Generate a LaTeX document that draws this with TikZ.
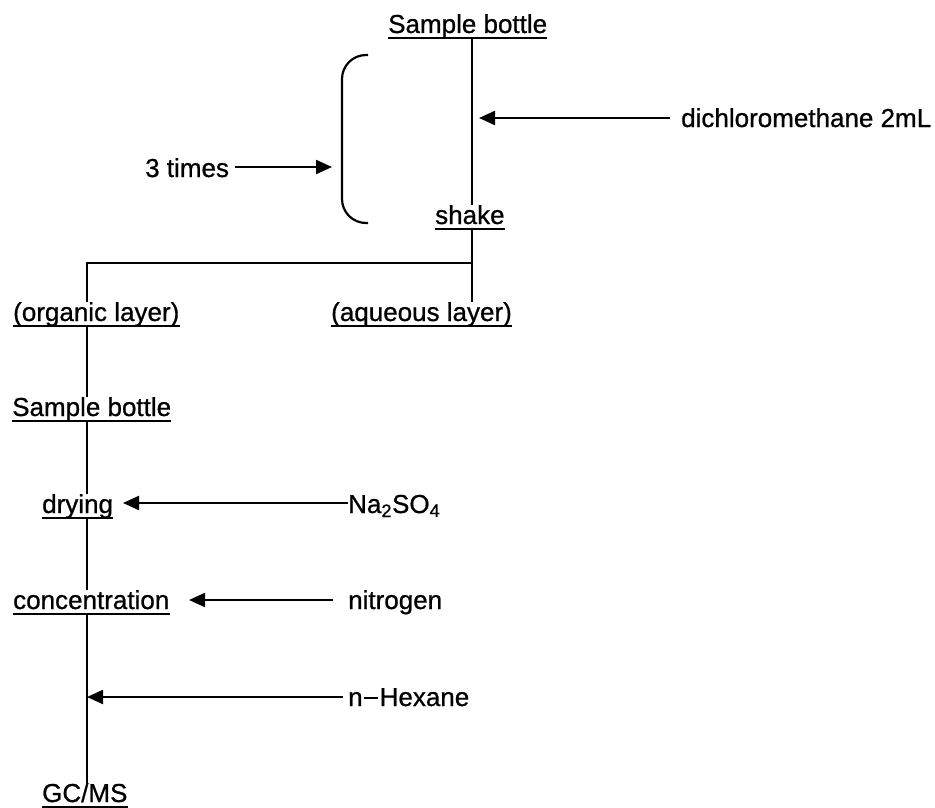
\documentclass[tikz,border=0pt]{standalone}
\usepackage{fontspec}
\setmainfont{Liberation Sans}[FakeBold=0.8]
\usetikzlibrary{arrows.meta}
\begin{document}
\begin{tikzpicture}[x=1pt,y=-1pt,
  every node/.style={font=\fontsize{26pt}{30pt}\selectfont, inner sep=0pt, anchor=base west},
  stepbox/.style={text height=19pt, text depth=5pt,
    append after command={(\tikzlastnode.south west) edge[line width=1.7pt] (\tikzlastnode.south east)}},
  plain/.style={text height=19pt, text depth=5pt},
  flow/.style={line width=2.2pt},
  feed/.style={line width=2.2pt, -{Triangle[length=16pt,width=14pt]}}]
\useasboundingbox (0,0) rectangle (935,808);
% process steps
\node[stepbox] (sb1) at (388,33) {Sample bottle};
\node[stepbox] (shake) at (435,224) {shake};
\node[stepbox] (org) at (13,321) {(organic layer)};
\node[stepbox] (aq) at (331,321) {(aqueous layer)};
\node[stepbox] (sb2) at (12,416) {Sample bottle};
\node[stepbox] (dry) at (42,513) {drying};
\node[stepbox] (conc) at (13,609) {concentration};
\node[stepbox] (gcms) at (42,802) {GC/MS};
% inputs
\node[plain] (dcm) at (681,127) {dichloromethane 2mL};
\node[plain] (times) at (145,177) {3 times};
\node[plain] (na) at (348,513) {Na\textsubscript{2}SO\textsubscript{4}};
\node[plain] (nit) at (348,609) {nitrogen};
\node[plain] (hex) at (348,706) {n{\kern1.5pt}\rule[7pt]{14pt}{2.2pt}{\kern1.5pt}Hexane};
% spine coordinates
\coordinate (mx) at (472,0);
\coordinate (lx) at (87,0);
\coordinate (split) at (472,263);
\coordinate (hexin) at (87,697);
% main flow
\draw[flow] (sb1.south -| mx) -- (shake.north -| mx);
\draw[flow] (shake.south -| mx) -- (aq.north -| mx);
\draw[flow] (split) -- (split -| lx) -- (org.north -| lx);
\draw[flow] (org.south -| lx) -- (sb2.north -| lx);
\draw[flow] (sb2.south -| lx) -- (dry.north -| lx);
\draw[flow] (dry.south -| lx) -- (conc.north -| lx);
\draw[flow] (conc.south -| lx) -- (gcms.north -| lx);
% feeds
\coordinate (dcmt) at (670,118);
\coordinate (dcmh) at (479,118);
\draw[feed] (dcmt) -- (dcmh);
\coordinate (nat) at (348,503);
\coordinate (nah) at (123,503);
\draw[feed] (nat) -- (nah);
\coordinate (nitt) at (333,600);
\coordinate (nith) at (189,600);
\draw[feed] (nitt) -- (nith);
\coordinate (hext) at (343,697);
\draw[feed] (hext) -- (hexin);
% bracket
\coordinate (bt) at (368,55);
\coordinate (bb) at (368,223);
\draw[flow, rounded corners=24pt] (bt) -- (342,55) -- (342,223) -- (bb);
\coordinate (tt) at (235,167);
\coordinate (th) at (332,167);
\draw[feed] (tt) -- (th);
\end{tikzpicture}
\end{document}
